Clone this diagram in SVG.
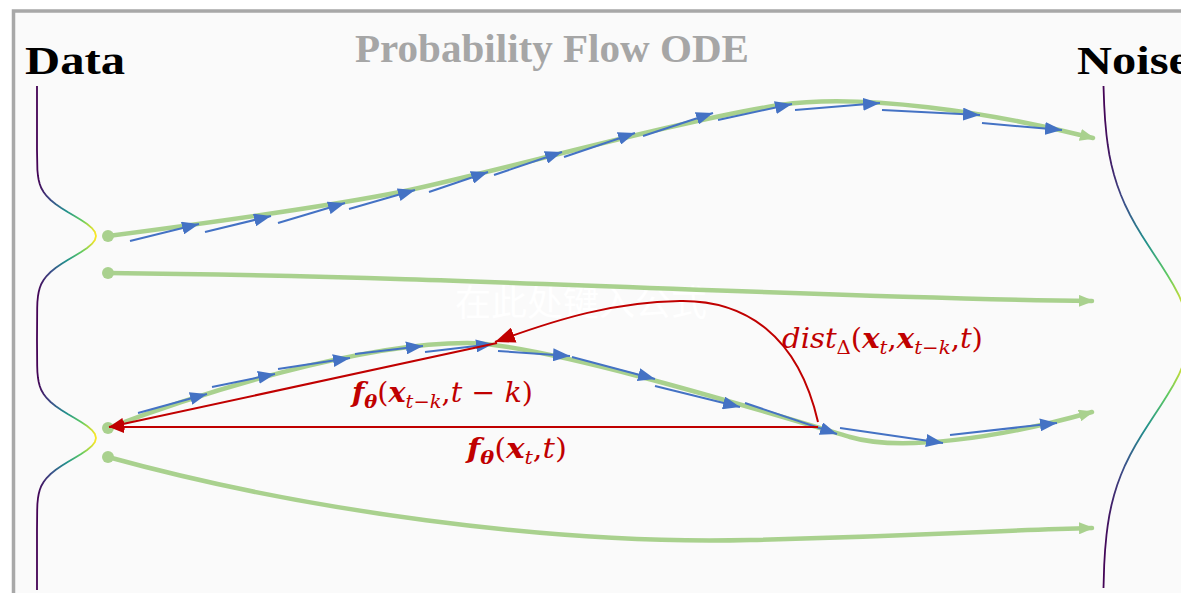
<svg xmlns="http://www.w3.org/2000/svg" width="1181" height="593" viewBox="0 0 1181 593">
<style>
.traj{fill:none;stroke:#a9d18e;stroke-width:4.5;stroke-linecap:round}
.blue{fill:none;stroke:#4472c4;stroke-width:2;marker-end:url(#ba)}
.red{fill:none;stroke:#c00000;stroke-width:2}
.dot{fill:#a9d18e}
.hdr{font-family:"Liberation Serif","Times New Roman",serif;font-weight:bold}
.m{font-family:"DejaVu Serif",serif;font-style:italic;fill:#c00000;font-size:28px}
.b{font-weight:bold}
.n{font-style:normal}
.s{font-size:19px}
</style>
<defs>
<linearGradient id="vl" gradientUnits="userSpaceOnUse" x1="37" y1="0" x2="96" y2="0">
<stop offset="0" stop-color="#440154"/><stop offset="0.25" stop-color="#3b528b"/><stop offset="0.5" stop-color="#21918c"/><stop offset="0.75" stop-color="#5ec962"/><stop offset="1" stop-color="#fde725"/>
</linearGradient>
<linearGradient id="vr" gradientUnits="userSpaceOnUse" x1="1103" y1="0" x2="1189" y2="0">
<stop offset="0" stop-color="#440154"/><stop offset="0.25" stop-color="#3b528b"/><stop offset="0.5" stop-color="#21918c"/><stop offset="0.75" stop-color="#5ec962"/><stop offset="1" stop-color="#fde725"/>
</linearGradient>
<marker id="ga" markerUnits="userSpaceOnUse" markerWidth="15" markerHeight="12" refX="13" refY="6" orient="auto"><path d="M0,0 L15,6 L0,12 z" fill="#a9d18e"/></marker>
<marker id="ba" markerUnits="userSpaceOnUse" markerWidth="17" markerHeight="13" refX="17" refY="6.5" orient="auto"><path d="M0,0 L17,6.5 L0,13 z" fill="#4472c4"/></marker>
<marker id="ra" markerUnits="userSpaceOnUse" markerWidth="15" markerHeight="12" refX="15" refY="6" orient="auto"><path d="M0,0 L15,6 L0,12 z" fill="#c00000"/></marker>
<marker id="rb" markerUnits="userSpaceOnUse" markerWidth="20" markerHeight="16" refX="20" refY="8" orient="auto"><path d="M0,0 L20,8 L0,16 z" fill="#c00000"/></marker>
</defs>
<rect x="0" y="0" width="1181" height="593" fill="#ffffff"/>
<rect x="13.5" y="11" width="1200" height="620" fill="#fafafa" stroke="#a8a8a8" stroke-width="3.5"/>
<text x="455" y="316" font-family="'Noto Sans CJK SC',sans-serif" font-size="36" fill="#ffffff">在此处键入公式</text>

<g id="title"><text class="hdr" x="355" y="62" font-size="40" fill="#a6a6a6" textLength="394" lengthAdjust="spacingAndGlyphs">Probability Flow ODE</text></g>
<g id="data"><text class="hdr" x="25" y="74" font-size="41" fill="#000" textLength="100" lengthAdjust="spacingAndGlyphs">Data</text></g>
<g id="noise"><text class="hdr" x="1077" y="74" font-size="41" fill="#000" textLength="113" lengthAdjust="spacingAndGlyphs">Noise</text></g>

<g id="data-distribution">
<polyline fill="none" stroke="url(#vl)" stroke-width="1.8" points="37,86 37,150 37.4,170 38,176 38.7,180 39.75,184 41.3,188 43.6,192 46.6,196 50.6,200 55.5,204 61.3,208 67.7,212 74.5,216 81.1,220 87.1,224 91.9,228 94.9,232 96,236 94.9,240 91.9,244 87.1,248 81.1,252 74.5,256 67.7,260 61.3,264 55.5,268 50.6,272 46.6,276 43.6,280 41.3,284 39.75,288 38.7,292 38,296 37.4,302 37.2,308 37,340 37.2,366 37.4,372 38,378 38.7,382 39.75,386 41.3,390 43.6,394 46.6,398 50.6,402 55.5,406 61.3,410 67.7,414 74.5,418 81.1,422 87.1,426 91.9,430 94.9,434 96,438 94.9,442 91.9,446 87.1,450 81.1,454 74.5,458 67.7,462 61.3,466 55.5,470 50.6,474 46.6,478 43.6,482 41.3,486 39.75,490 38.7,494 38,498 37.4,504 37.2,510 37,530 37,590"/>
</g>
<g id="noise-distribution">
<polyline fill="none" stroke="url(#vr)" stroke-width="1.8" points="1103.5,86 1104.2,105 1105.1,120 1106.5,135 1107.8,145 1109.4,155 1111.5,165 1114.1,175 1117.2,185 1120.9,195 1125.2,205 1130.1,215 1135.6,225 1141.6,235 1148,245 1154.5,255 1161.1,265 1167.4,275 1173.4,285 1178.7,295 1183,305 1186.2,315 1188.3,325 1189,335 1188.3,345 1186.2,355 1183,365 1178.7,375 1173.4,385 1167.4,395 1161.1,405 1154.5,415 1148,425 1141.6,435 1135.6,445 1130.1,455 1125.2,465 1120.9,475 1117.2,485 1114.1,495 1111.5,505 1109.4,515 1107.8,525 1106.5,535 1105.1,550 1104.2,565 1103.5,588"/>
</g>

<g id="start-1"><circle class="dot" cx="108" cy="236" r="6"/></g>
<g id="start-2"><circle class="dot" cx="108" cy="273" r="6"/></g>
<g id="start-3"><circle class="dot" cx="108" cy="428" r="6"/></g>
<g id="start-4"><circle class="dot" cx="108" cy="457" r="6"/></g>

<g id="connectors">
<path class="traj" marker-end="url(#ga)" d="M108,236 C200,224 320,208 400,192 C480,176 680,120 780,105 C860,93 990,112 1093,138"/>
<path class="traj" marker-end="url(#ga)" d="M108,273 C500,277 800,298 1092,301"/>
<path class="traj" marker-end="url(#ga)" d="M108,428 C200,393 360,343 467,343 C540,343 760,410 850,437 C900,452 1000,438 1092,412"/>
<path class="traj" marker-end="url(#ga)" d="M108,457 C300,510 550,545 750,540 S1000,530 1092,528"/>

<line class="blue" x1="130" y1="241" x2="199" y2="224"/>
<line class="blue" x1="205" y1="232" x2="271" y2="216"/>
<line class="blue" x1="278" y1="223" x2="345" y2="203"/>
<line class="blue" x1="349" y1="209" x2="415" y2="190"/>
<line class="blue" x1="429" y1="192" x2="488" y2="172"/>
<line class="blue" x1="494" y1="175" x2="562" y2="152"/>
<line class="blue" x1="564" y1="157" x2="635" y2="133"/>
<line class="blue" x1="643" y1="136" x2="713" y2="113"/>
<line class="blue" x1="718" y1="120" x2="792" y2="104"/>
<line class="blue" x1="795" y1="110" x2="880" y2="103"/>
<line class="blue" x1="882" y1="110" x2="980" y2="115"/>
<line class="blue" x1="982" y1="123" x2="1062" y2="130"/>

<line class="blue" x1="138" y1="413" x2="207" y2="394"/>
<line class="blue" x1="212" y1="387" x2="275" y2="374"/>
<line class="blue" x1="278" y1="369" x2="350" y2="358"/>
<line class="blue" x1="355" y1="354" x2="423" y2="346"/>
<line class="blue" x1="425" y1="352" x2="493" y2="344"/>
<line class="blue" x1="498" y1="351" x2="570" y2="356"/>
<line class="blue" x1="572" y1="357" x2="655" y2="379"/>
<line class="blue" x1="655" y1="386" x2="740" y2="407"/>
<line class="blue" x1="745" y1="403" x2="837" y2="434"/>
<line class="blue" x1="840" y1="428" x2="943" y2="443"/>
<line class="blue" x1="950" y1="435" x2="1057" y2="423"/>

<line class="red" marker-end="url(#ra)" x1="818" y1="427" x2="109" y2="427"/>
<line class="red" marker-end="url(#ra)" x1="497" y1="343" x2="109" y2="427"/>
<path class="red" marker-end="url(#rb)" d="M818,422 C798,335 745,300 680,301 C615,302 560,318 495,342"/>
</g>

<g id="label-f-tk"><text class="m" x="352" y="402" textLength="181" lengthAdjust="spacingAndGlyphs"><tspan class="b">f</tspan><tspan class="b s" dy="6">θ</tspan><tspan class="n" dy="-6">(</tspan><tspan class="b">x</tspan><tspan class="s" dy="6">t−k</tspan><tspan class="n" dy="-6">,</tspan>t <tspan class="n">−</tspan> k<tspan class="n">)</tspan></text></g>
<g id="label-f-t"><text class="m" x="467" y="458" textLength="100" lengthAdjust="spacingAndGlyphs"><tspan class="b">f</tspan><tspan class="b s" dy="6">θ</tspan><tspan class="n" dy="-6">(</tspan><tspan class="b">x</tspan><tspan class="s" dy="6">t</tspan><tspan class="n" dy="-6">,</tspan>t<tspan class="n">)</tspan></text></g>
<g id="label-dist"><text class="m" x="782" y="348" textLength="201" lengthAdjust="spacingAndGlyphs">dist<tspan class="s n" dy="6">Δ</tspan><tspan class="n" dy="-6">(</tspan><tspan class="b">x</tspan><tspan class="s" dy="6">t</tspan><tspan class="n" dy="-6">,</tspan><tspan class="b">x</tspan><tspan class="s" dy="6">t−k</tspan><tspan class="n" dy="-6">,</tspan>t<tspan class="n">)</tspan></text></g>
</svg>
